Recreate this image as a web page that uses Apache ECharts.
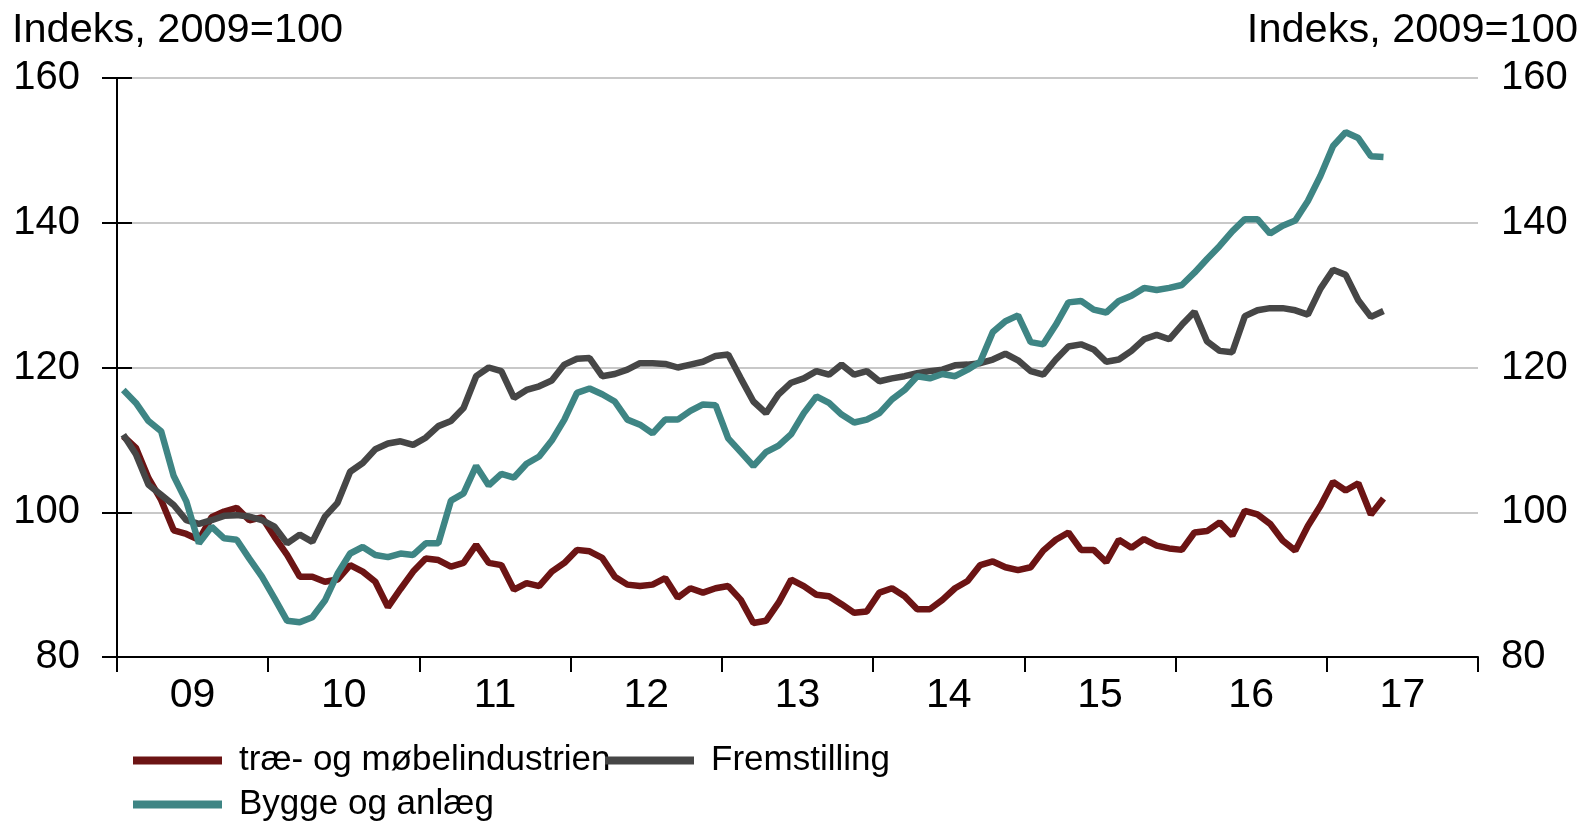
<!DOCTYPE html>
<html>
<head>
<meta charset="utf-8">
<script src="https://cdn.jsdelivr.net/npm/echarts@6/dist/echarts.min.js"></script>
<style>
html,body{margin:0;padding:0;background:#fff;}
#chart{width:1584px;height:824px;}
</style>
</head>
<body>
<div id="chart"></div>
<script>
// Monthly index values, Jan 2009 .. May 2017 (2009=100)
const yearLabels = ['09','10','11','12','13','14','15','16','17'];
const seriesNames = ['træ- og møbelindustrien','Fremstilling','Bygge og anlæg'];

const trae = [
110.5,108.9,104.7,101.7,97.5,97.0,96.2,99.3,100.1,100.6,98.9,99.3,
96.6,94.1,91.1,91.1,90.4,90.7,92.7,91.8,90.4,86.9,89.4,91.8,
93.6,93.4,92.5,93.0,95.5,93.0,92.7,89.3,90.2,89.8,91.8,93.0,
94.8,94.6,93.7,91.1,90.0,89.8,90.0,90.9,88.2,89.5,88.9,89.5,
89.8,87.9,84.7,85.0,87.5,90.7,89.8,88.6,88.4,87.3,86.1,86.3,
88.9,89.5,88.4,86.6,86.6,87.9,89.5,90.5,92.7,93.2,92.4,92.0,
92.4,94.7,96.2,97.2,94.8,94.8,93.1,96.2,95.1,96.3,95.4,95.0,
94.8,97.2,97.4,98.6,96.8,100.2,99.7,98.4,96.1,94.7,98.1,100.9,
104.2,103.0,104.0,99.7,101.9
];

const fremstilling = [
110.7,108.0,103.8,102.4,101.0,98.9,98.4,98.9,99.5,99.6,99.4,98.9,
98.0,95.7,96.9,95.9,99.4,101.3,105.6,106.8,108.7,109.5,109.8,109.3,
110.3,111.9,112.6,114.4,118.8,120.0,119.5,115.8,116.9,117.4,118.2,120.4,
121.2,121.3,118.8,119.1,119.7,120.6,120.6,120.5,120.0,120.4,120.8,121.6,
121.8,118.5,115.3,113.7,116.3,117.9,118.5,119.5,119.0,120.4,119.0,119.5,
118.1,118.5,118.8,119.2,119.5,119.7,120.3,120.4,120.6,121.1,121.9,121.0,
119.5,119.0,121.1,122.9,123.2,122.5,120.8,121.1,122.3,123.9,124.5,123.9,
125.9,127.7,123.6,122.3,122.1,127.1,127.9,128.2,128.2,127.9,127.3,130.9,
133.5,132.8,129.3,127.0,127.8
];

const bygge = [
116.9,115.1,112.6,111.2,105.0,101.5,95.7,98.0,96.4,96.2,93.6,91.1,
88.1,85.0,84.8,85.5,87.8,91.5,94.3,95.2,94.1,93.8,94.3,94.1,
95.7,95.7,101.6,102.6,106.4,103.7,105.3,104.8,106.7,107.7,109.9,112.8,
116.5,117.1,116.3,115.3,112.8,112.1,110.9,112.8,112.8,114.0,114.9,114.8,
110.2,108.3,106.4,108.3,109.2,110.8,113.7,116.0,115.1,113.5,112.4,112.8,
113.7,115.6,116.9,118.8,118.5,119.1,118.8,119.7,120.8,124.9,126.4,127.2,
123.5,123.2,125.9,129.0,129.2,128.0,127.6,129.2,129.9,131.0,130.7,131.0,
131.4,133.1,135.0,136.8,138.8,140.5,140.5,138.5,139.6,140.3,143.0,146.5,
150.6,152.5,151.7,149.2,149.1
];

const colors = ['#6c1414', '#464646', '#3e8584'];
const FONT = '"Liberation Sans", Arial, sans-serif';

function toPoints(arr) { return arr.map((v, i) => [i + 0.5, v]); }

const chart = echarts.init(document.getElementById('chart'), null, {renderer: 'canvas'});

const yAxisCommon = {
  type: 'value', min: 80, max: 160, interval: 20,
  axisLine: {show: true, lineStyle: {color: '#000', width: 2}},
  axisTick: {show: true, length: 15, lineStyle: {color: '#000', width: 2}},
  axisLabel: {color: '#000', fontSize: 40, fontFamily: FONT}
};

const legendCommon = {
  orient: 'horizontal', padding: 0, icon: 'rect',
  itemWidth: 89, itemHeight: 8,
  textStyle: {color: '#000', fontSize: 35, fontFamily: FONT, padding: [0, 0, 0, 12]}
};

chart.setOption({
  animation: false,
  backgroundColor: '#fff',
  color: colors,
  title: [
    {text: 'Indeks, 2009=100', left: 12, top: 10, padding: 0,
     textStyle: {color: '#000', fontSize: 41.5, fontWeight: 'normal', fontFamily: FONT}},
    {text: 'Indeks, 2009=100', right: 6, top: 10, padding: 0,
     textStyle: {color: '#000', fontSize: 41.5, fontWeight: 'normal', fontFamily: FONT}}
  ],
  legend: [
    Object.assign({}, legendCommon, {data: [seriesNames[0]], left: 133, top: 743}),
    Object.assign({}, legendCommon, {data: [seriesNames[1]], left: 605, top: 743}),
    Object.assign({}, legendCommon, {data: [seriesNames[2]], left: 133, top: 787})
  ],
  grid: {left: 117, right: 106, top: 78, bottom: 167, containLabel: false},
  xAxis: [
    {
      type: 'value', min: 0, max: 108, interval: 12,
      axisLine: {show: true, lineStyle: {color: '#000', width: 2}},
      axisTick: {show: true, length: 15, lineStyle: {color: '#000', width: 2}},
      axisLabel: {show: false},
      splitLine: {show: false}
    },
    {
      type: 'value', min: 0, max: 108, interval: 6, position: 'bottom',
      axisLine: {show: false}, axisTick: {show: false}, splitLine: {show: false},
      axisLabel: {
        color: '#000', fontSize: 41, fontFamily: FONT, margin: 18,
        formatter: function (v) {
          return (v % 12 === 6) ? yearLabels[(v - 6) / 12] : '';
        }
      }
    }
  ],
  yAxis: [
    Object.assign({}, yAxisCommon, {
      position: 'left',
      splitLine: {show: true, lineStyle: {color: '#c8c8c8', width: 2}},
      axisLabel: Object.assign({}, yAxisCommon.axisLabel, {margin: 37})
    }),
    Object.assign({}, yAxisCommon, {
      position: 'right',
      splitLine: {show: false},
      axisLabel: Object.assign({}, yAxisCommon.axisLabel, {margin: 23})
    })
  ],
  series: [
    {name: seriesNames[0], type: 'line', xAxisIndex: 0, yAxisIndex: 0, data: toPoints(trae),
     showSymbol: false, symbol: 'none', lineStyle: {width: 6.5, color: colors[0]}, itemStyle: {color: colors[0]}},
    {name: seriesNames[1], type: 'line', xAxisIndex: 0, yAxisIndex: 0, data: toPoints(fremstilling),
     showSymbol: false, symbol: 'none', lineStyle: {width: 6.5, color: colors[1]}, itemStyle: {color: colors[1]}},
    {name: seriesNames[2], type: 'line', xAxisIndex: 0, yAxisIndex: 0, data: toPoints(bygge),
     showSymbol: false, symbol: 'none', lineStyle: {width: 6.5, color: colors[2]}, itemStyle: {color: colors[2]}}
  ]
});
</script>
</body>
</html>
